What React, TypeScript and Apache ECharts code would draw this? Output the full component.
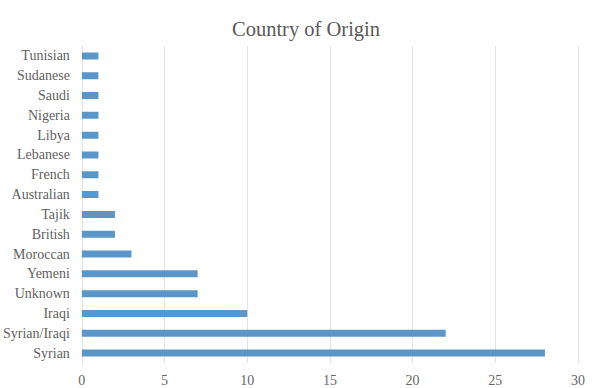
import React, { useEffect, useRef } from "react";
import * as echarts from "echarts";

const categories = [
  "Syrian", "Syrian/Iraqi", "Iraqi", "Unknown", "Yemeni", "Moroccan", "British", "Tajik",
  "Australian", "French", "Lebanese", "Libya", "Nigeria", "Saudi", "Sudanese", "Tunisian",
];
const values = [28, 22, 10, 7, 7, 3, 2, 2, 1, 1, 1, 1, 1, 1, 1, 1];
const titleText = "Country of Origin";

export default function App() {
  const ref = useRef<HTMLDivElement>(null);
  useEffect(() => {
    const chart = echarts.init(ref.current!, null, { renderer: "svg" });
    const font = "'Liberation Serif', 'DejaVu Serif', serif";
    chart.setOption({
      animation: false,
      backgroundColor: "#ffffff",
      title: {
        text: titleText,
        left: 227,
        top: 13,
        textStyle: { fontFamily: font, fontSize: 20.5, fontWeight: "normal", color: "#595959" },
      },
      grid: { left: 80, right: 22, top: 46, bottom: 25, containLabel: false },
      xAxis: {
        type: "value",
        min: 0,
        max: 30,
        interval: 5,
        axisLine: { show: false },
        axisTick: { show: false },
        splitLine: { show: true, lineStyle: { color: "#e3e3e3", width: 1 } },
        axisLabel: { fontFamily: font, fontSize: 14, color: "#666666", margin: 10 },
      },
      yAxis: {
        type: "category",
        data: categories,
        axisLine: { show: true, lineStyle: { color: "#e3e3e3" } },
        axisTick: { show: false },
        axisLabel: { fontFamily: font, fontSize: 14, color: "#5f5f5f", margin: 12 },
      },
      series: [
        {
          type: "bar",
          data: values,
          barWidth: 7,
          itemStyle: { color: "#5b96c8" },
        },
      ],
    });
    return () => chart.dispose();
  }, []);
  return <div ref={ref} style={{ width: 600, height: 388, position: "absolute", left: 0, top: 0 }} />;
}
